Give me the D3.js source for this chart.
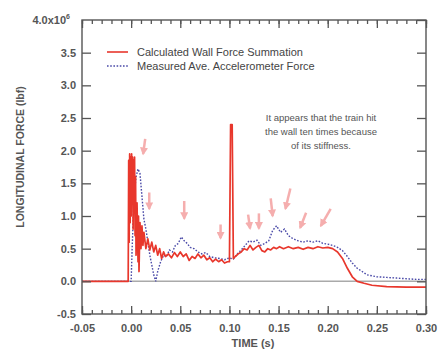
<!DOCTYPE html>
<html><head><meta charset="utf-8">
<script src="https://cdn.jsdelivr.net/npm/d3@7"></script>
<style>body{margin:0;background:#fff}svg{display:block}text{font-family:"Liberation Sans",Arial,sans-serif}</style>
</head><body><svg id="c" width="438" height="352"></svg>
<script>
// ---- data ----
const calcT = [-0.05,-0.003,-0.0025,-0.002,-0.0015,-0.001,-0.0005,0.0,0.0005,0.001,0.0015,0.002,0.0025,0.003,0.0035,0.004,0.0045,0.005,0.006,0.007,0.0075,0.008,0.009,0.010,0.011,0.012,0.013,0.015,0.017,0.019,0.021,0.023,0.025,0.027,0.029,0.031,0.033,0.035,0.038,0.041,0.044,0.047,0.05,0.053,0.056,0.059,0.062,0.065,0.068,0.071,0.074,0.077,0.08,0.083,0.086,0.089,0.092,0.095,0.098,0.1,0.1012,0.1028,0.104,0.106,0.109,0.112,0.115,0.118,0.121,0.124,0.127,0.13,0.133,0.136,0.139,0.142,0.145,0.148,0.151,0.155,0.16,0.165,0.17,0.175,0.18,0.185,0.19,0.195,0.2,0.205,0.21,0.215,0.22,0.225,0.23,0.237,0.245,0.26,0.28,0.30];
const calcV = [0,0,1.85,0.6,1.95,0.9,1.9,1.0,1.95,1.2,1.9,0.8,1.85,1.3,1.9,0.7,1.6,0.4,1.2,0.3,1.0,0.15,0.9,0.5,0.85,0.55,0.75,0.5,0.65,0.48,0.6,0.45,0.55,0.4,0.5,0.35,0.45,0.38,0.42,0.36,0.44,0.38,0.45,0.38,0.42,0.32,0.38,0.35,0.42,0.36,0.4,0.33,0.36,0.3,0.34,0.3,0.33,0.28,0.3,0.3,2.4,2.4,0.35,0.38,0.42,0.45,0.5,0.48,0.55,0.48,0.52,0.55,0.47,0.45,0.5,0.48,0.52,0.5,0.53,0.5,0.53,0.5,0.52,0.49,0.52,0.5,0.53,0.51,0.52,0.5,0.45,0.35,0.2,0.07,0.0,-0.03,-0.06,-0.08,-0.09,-0.09];
const measT = [-0.05,0.0,0.001,0.003,0.005,0.007,0.009,0.011,0.013,0.015,0.017,0.019,0.021,0.023,0.025,0.027,0.03,0.033,0.036,0.039,0.042,0.045,0.048,0.051,0.054,0.057,0.06,0.064,0.068,0.072,0.076,0.08,0.085,0.09,0.095,0.1,0.104,0.108,0.112,0.116,0.12,0.124,0.128,0.132,0.136,0.14,0.144,0.148,0.152,0.156,0.16,0.165,0.17,0.175,0.18,0.185,0.19,0.195,0.2,0.205,0.21,0.215,0.22,0.225,0.23,0.235,0.24,0.25,0.26,0.27,0.28,0.29,0.30];
const measV = [0,0,0.5,1.3,1.6,1.72,1.65,1.3,0.95,0.8,0.6,0.4,0.25,0.1,0.0,0.15,0.3,0.4,0.38,0.48,0.45,0.55,0.58,0.68,0.62,0.58,0.52,0.5,0.45,0.42,0.44,0.38,0.36,0.35,0.33,0.36,0.34,0.42,0.48,0.55,0.62,0.6,0.63,0.55,0.58,0.62,0.78,0.85,0.75,0.8,0.7,0.65,0.62,0.6,0.62,0.6,0.62,0.58,0.57,0.55,0.52,0.47,0.38,0.28,0.2,0.15,0.1,0.07,0.06,0.05,0.04,0.03,0.03];
const seriesNames = ["Calculated Wall Force Summation","Measured Ave. Accelerometer Force"];
const xTicks = [-0.05,0.00,0.05,0.10,0.15,0.20,0.25,0.30];
const xTickLabels = ["-0.05","0.00","0.05","0.10","0.15","0.20","0.25","0.30"];
const yTicks = [-0.5,0.0,0.5,1.0,1.5,2.0,2.5,3.0,3.5];
const yTickLabels = ["-0.5","0.0","0.5","1.0","1.5","2.0","2.5","3.0","3.5"];
const arrowHeadT = [0.0122,0.0184,0.054,0.091,0.121,0.130,0.144,0.157,0.172,0.193];
const arrowHeadV = [1.95,1.11,0.96,0.66,0.81,0.81,1.0,1.11,0.82,0.85];
const arrowTailT = [0.0143,0.0184,0.054,0.091,0.119,0.130,0.142,0.162,0.178,0.203];
const arrowTailV = [2.18,1.36,1.23,0.87,1.02,1.04,1.27,1.42,1.05,1.11];
const noteLines = ["It appears that the train hit","the wall ten times because","of its stiffness."];

// ---- layout ----
const W=438,H=352, m={l:82,t:20,r:12,b:38};
const svg=d3.select("#c");
const x=d3.scaleLinear().domain([-0.05,0.30]).range([m.l,W-m.r]);
const y=d3.scaleLinear().domain([-0.5,4.0]).range([H-m.b,m.t]);
const axC="#555", txC="#555";

// zero line
svg.append("line").attr("x1",x(-0.05)).attr("x2",x(0.30)).attr("y1",y(0)).attr("y2",y(0))
  .attr("stroke","#aaa").attr("stroke-width",1.5);

// arrows
const defs=svg.append("defs");
defs.append("marker").attr("id","ah").attr("viewBox","0 0 10 10").attr("refX",8).attr("refY",5)
  .attr("markerWidth",3.2).attr("markerHeight",3.2).attr("orient","auto")
  .append("path").attr("d","M0,0 L10,5 L0,10 z").attr("fill","#f4a0a0");
arrowHeadT.forEach((t,i)=>{
  svg.append("line").attr("x1",x(arrowTailT[i])).attr("y1",y(arrowTailV[i]))
    .attr("x2",x(t)).attr("y2",y(arrowHeadV[i]))
    .attr("stroke","#f4a0a0").attr("stroke-width",2.5).attr("opacity",0.85).attr("marker-end","url(#ah)");
});

// series
const line=d3.line().x(d=>x(d[0])).y(d=>y(d[1]));
svg.append("path").datum(measT.map((t,i)=>[t,measV[i]])).attr("d",line)
  .attr("fill","none").attr("stroke","#4a4aa8").attr("stroke-width",1.4).attr("stroke-dasharray","1.6,1.6");
svg.append("path").datum(calcT.map((t,i)=>[t,calcV[i]])).attr("d",line)
  .attr("fill","none").attr("stroke","#e8372c").attr("stroke-width",1.7).attr("stroke-linejoin","round");

// frame
svg.append("rect").attr("x",m.l).attr("y",m.t).attr("width",W-m.l-m.r).attr("height",H-m.t-m.b)
  .attr("fill","none").attr("stroke",axC).attr("stroke-width",1.4);

// axes ticks (inward)
const gB=svg.append("g").attr("transform",`translate(0,${H-m.b})`)
  .call(d3.axisBottom(x).tickValues(xTicks).tickSize(-8).tickFormat((d,i)=>xTickLabels[i]).tickPadding(14));
const minorX=d3.range(-0.05,0.3001,0.01);
svg.append("g").attr("transform",`translate(0,${H-m.b})`).call(d3.axisBottom(x).tickValues(minorX).tickSize(-4).tickFormat(""));
svg.append("g").attr("transform",`translate(0,${m.t})`).call(d3.axisTop(x).tickValues(xTicks).tickSize(-8).tickFormat(""));
svg.append("g").attr("transform",`translate(0,${m.t})`).call(d3.axisTop(x).tickValues(minorX).tickSize(-4).tickFormat(""));
svg.append("g").attr("transform",`translate(${m.l},0)`)
  .call(d3.axisLeft(y).tickValues(yTicks).tickSize(-9).tickFormat((d,i)=>yTickLabels[i]).tickPadding(6));
svg.append("g").attr("transform",`translate(${W-m.r},0)`).call(d3.axisRight(y).tickValues(yTicks.concat([4.0])).tickSize(-9).tickFormat(""));
svg.selectAll(".domain").remove();
svg.selectAll(".tick line").attr("stroke",axC).attr("stroke-width",1.3);
svg.selectAll(".tick text").attr("fill",txC).attr("font-size",11).attr("font-weight","bold");
gB.selectAll(".tick text").attr("dy","0.4em");

// top label 4.0x10^6
const tl=svg.append("text").attr("x",m.l-12).attr("y",y(4.0)+4).attr("text-anchor","end")
  .attr("fill",txC).attr("font-size",11).attr("font-weight","bold");
tl.append("tspan").text("4.0x10");
tl.append("tspan").attr("font-size",7).attr("dy",-5).text("6");

// axis titles
svg.append("text").attr("transform",`translate(24,${(m.t+H-m.b)/2-10}) rotate(-90)`).attr("text-anchor","middle")
  .attr("fill",txC).attr("font-size",10.5).attr("font-weight","bold").text("LONGITUDINAL FORCE  (lbf)");
svg.append("text").attr("x",253).attr("y",347).attr("text-anchor","middle")
  .attr("fill",txC).attr("font-size",11).attr("font-weight","bold").text("TIME  (s)");

// legend
svg.append("line").attr("x1",107).attr("x2",128).attr("y1",52).attr("y2",52).attr("stroke","#e8372c").attr("stroke-width",1.6);
svg.append("line").attr("x1",107).attr("x2",128).attr("y1",66).attr("y2",66).attr("stroke","#4a4aa8").attr("stroke-width",1.4).attr("stroke-dasharray","1.6,1.6");
seriesNames.forEach((s,i)=>svg.append("text").attr("x",137).attr("y",56+i*14).attr("fill","#444").attr("font-size",11).text(s));

// note
noteLines.forEach((s,i)=>svg.append("text").attr("x",321).attr("y",121+i*14).attr("text-anchor","middle")
  .attr("fill","#555").attr("font-size",9.5).text(s));
</script></body></html>
